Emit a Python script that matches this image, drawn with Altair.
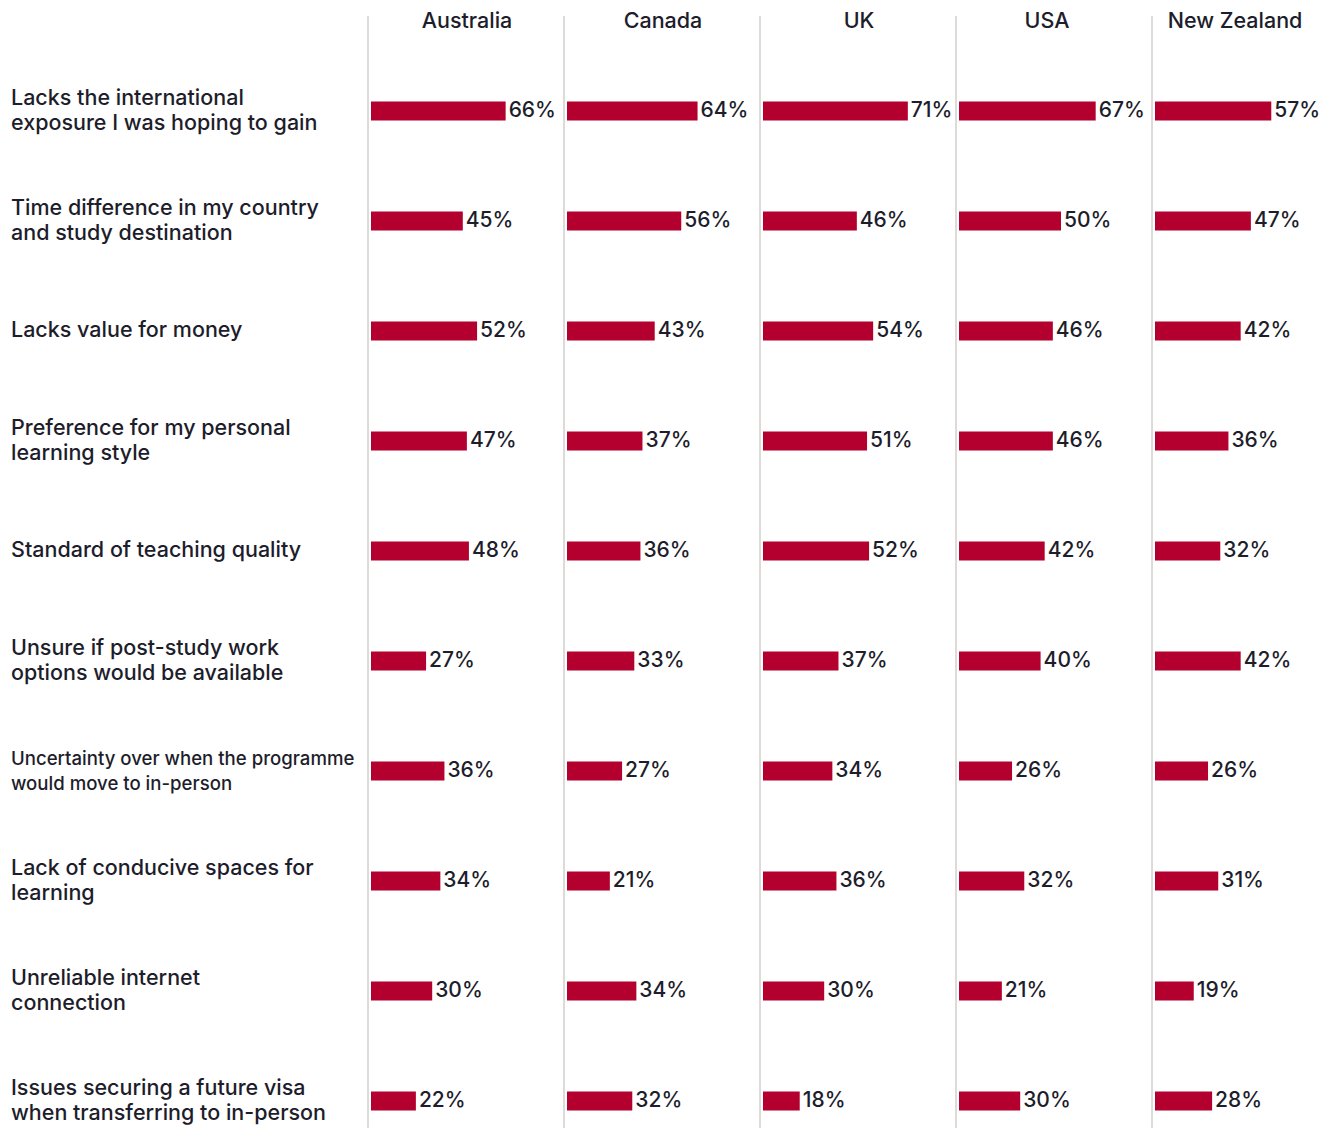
import altair as alt
import pandas as pd

countries = ["Australia", "Canada", "UK", "USA", "New Zealand"]
reasons = [
    "Lacks the international\nexposure I was hoping to gain",
    "Time difference in my country\nand study destination",
    "Lacks value for money",
    "Preference for my personal\nlearning style",
    "Standard of teaching quality",
    "Unsure if post-study work\noptions would be available",
    "Uncertainty over when the programme\nwould move to in-person",
    "Lack of conducive spaces for\nlearning",
    "Unreliable internet\nconnection",
    "Issues securing a future visa\nwhen transferring to in-person",
]
australia = [66, 45, 52, 47, 48, 27, 36, 34, 30, 22]
canada = [64, 56, 43, 37, 36, 33, 27, 21, 34, 32]
uk = [71, 46, 54, 51, 52, 37, 34, 36, 30, 18]
usa = [67, 50, 46, 46, 42, 40, 26, 32, 21, 30]
new_zealand = [57, 47, 42, 36, 32, 42, 26, 31, 19, 28]

series = [australia, canada, uk, usa, new_zealand]

FONT = "Inter"
TEXT = "#1d1d2b"
RED = "#b3002f"
GRID = "#dddbd8"
H = 1112
PX = 2.04  # pixels per percentage point
TOP = 103  # local y of first row centre
STEP = 110
panel_w = [196, 196, 196, 196, 172]
header_x = [96, 96, 96, 88, 80]

ydom = [-TOP / STEP, (H - TOP) / STEP]
yscale = alt.Scale(domain=ydom, reverse=True, nice=False, zero=False, padding=0)

rows = []
for c, vals in zip(countries, series):
    for i, (r, v) in enumerate(zip(reasons, vals)):
        rows.append({"country": c, "reason": r, "idx": i, "value": v})
df = pd.DataFrame(rows)

lab_df = pd.DataFrame({"reason": reasons, "idx": list(range(len(reasons)))})
lab_base = alt.Chart(lab_df).encode(
    x=alt.value(3),
    y=alt.Y("idx:Q", scale=yscale, axis=None),
    text="reason:N",
    size=alt.condition(alt.datum.idx == 6, alt.value(18.6), alt.value(21.5)),
)
lab_style = dict(align="left", baseline="middle", font=FONT, fontWeight=500,
                 lineBreak="\n", lineHeight=25, color=TEXT)
two_line = lab_base.mark_text(dy=-12.5, **lab_style).transform_filter(
    "indexof(datum.reason, '\\n') >= 0")
one_line = lab_base.mark_text(**lab_style).transform_filter(
    "indexof(datum.reason, '\\n') < 0")
labels = alt.layer(two_line, one_line).properties(width=363, height=H)

panels = [labels]
for k, c in enumerate(countries):
    w = panel_w[k]
    xs = alt.Scale(domain=[0, w / PX], nice=False, padding=0)
    d = df[df.country == c]
    hdr = pd.DataFrame({"country": [c]})
    rule = alt.Chart(hdr).mark_rule(color=GRID, strokeWidth=2).encode(
        x=alt.value(-3), y=alt.value(8), y2=alt.value(H + 10)
    )
    head = alt.Chart(hdr).mark_text(
        font=FONT, fontSize=21.5, fontWeight=500, color=TEXT,
        align="center", baseline="middle"
    ).encode(x=alt.value(header_x[k]), y=alt.value(14), text="country:N")
    bars = alt.Chart(d).mark_bar(orient="horizontal", size=19, color=RED).encode(
        x=alt.X("value:Q", scale=xs, axis=None),
        y=alt.Y("idx:Q", scale=yscale, axis=None),
    )
    vals = alt.Chart(d).mark_text(
        align="left", baseline="middle", dx=3, font=FONT, fontSize=21,
        fontWeight=500, color=TEXT
    ).encode(
        x=alt.X("value:Q", scale=xs, axis=None),
        y=alt.Y("idx:Q", scale=yscale, axis=None),
        text=alt.Text("label:N"),
    ).transform_calculate(label="datum.value + '%'")
    panels.append(alt.layer(rule, bars, vals, head).properties(width=w, height=H))

chart = alt.hconcat(*panels, spacing=0, bounds="flush").properties(
    padding=0, background="white"
).configure_view(strokeWidth=0, stroke="transparent")

chart.save("out.html", embed_options={"renderer": "svg", "actions": False})
